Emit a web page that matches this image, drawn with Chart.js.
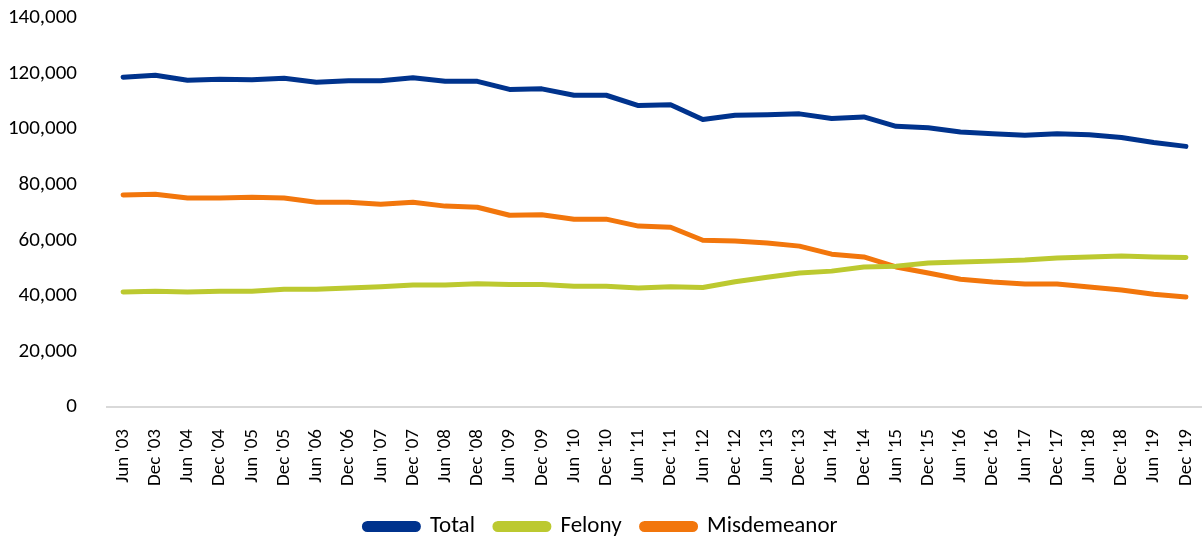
<!DOCTYPE html>
<html>
<head>
<meta charset="utf-8">
<script src="https://cdn.jsdelivr.net/npm/chart.js@4"></script>
<style>
  html, body { margin: 0; padding: 0; background: #fff; }
  #wrap { width: 1202px; height: 539px; }
</style>
</head>
<body>
<div id="wrap"><canvas id="chart"></canvas></div>
<script>
const periods = ["Jun '03","Dec '03","Jun '04","Dec '04","Jun '05","Dec '05","Jun '06","Dec '06",
  "Jun '07","Dec '07","Jun '08","Dec '08","Jun '09","Dec '09","Jun '10","Dec '10","Jun '11","Dec '11",
  "Jun '12","Dec '12","Jun '13","Dec '13","Jun '14","Dec '14","Jun '15","Dec '15","Jun '16","Dec '16",
  "Jun '17","Dec '17","Jun '18","Dec '18","Jun '19","Dec '19"];

const total = [118700,119400,117600,118000,117800,118300,116900,117400,117400,118500,117200,117200,
  114300,114500,112200,112200,108500,108800,103500,105000,105200,105500,103800,104400,
  101000,100500,99000,98300,97800,98300,98000,97000,95200,93800];

const felony = [41400,41700,41400,41700,41700,42400,42400,42800,43300,43900,43900,44400,
  44100,44100,43500,43500,42800,43300,43000,45100,46700,48200,48900,50400,
  50700,51800,52200,52500,52900,53600,54000,54300,54000,53800];

const misdemeanor = [76300,76600,75200,75200,75500,75200,73700,73700,73000,73700,72300,71900,
  69000,69200,67600,67600,65100,64700,60000,59700,59000,57900,55000,54000,
  50400,48200,46000,45000,44300,44300,43200,42100,40600,39600];

const yTicks = [0, 20000, 40000, 60000, 80000, 100000, 120000, 140000];

const fontFamily = "Carlito, Lato, 'Open Sans', sans-serif";

function series(label, data, color) {
  return {
    label: label,
    data: data,
    borderColor: color,
    backgroundColor: color,
    borderWidth: 5,
    pointRadius: 0,
    tension: 0,
    borderCapStyle: 'round',
    borderJoinStyle: 'round'
  };
}

// drop the extra padding Chart.js reserves around the axes
function noPad(scale) {
  scale.paddingTop = 0;
  scale.paddingBottom = 0;
  scale.paddingLeft = 0;
  scale.paddingRight = 0;
}

// nudge the legend row down a little
const legendShift = {
  id: 'legendShift',
  afterLayout(chart) {
    chart.legend.top += 9;
    chart.legend.bottom += 9;
  }
};

new Chart(document.getElementById('chart').getContext('2d'), {
  type: 'line',
  data: {
    labels: periods,
    datasets: [
      series('Total', total, '#00338d'),
      series('Felony', felony, '#bcc930'),
      series('Misdemeanor', misdemeanor, '#f2760c')
    ]
  },
  options: {
    responsive: true,
    maintainAspectRatio: false,
    animation: false,
    layout: { padding: { top: 18, right: 0, left: 0, bottom: 0 } },
    scales: {
      x: {
        offset: true,
        grid: { display: false },
        border: { display: true, color: '#d9d9d9', width: 2 },
        afterFit: s => { noPad(s); s.height = 79; },
        ticks: {
          color: '#000',
          font: { family: fontFamily, size: 19 },
          maxRotation: 90,
          minRotation: 90,
          autoSkip: false,
          padding: 14
        }
      },
      y: {
        min: 0,
        max: 140000,
        afterBuildTicks: axis => { axis.ticks = yTicks.map(v => ({ value: v })); },
        afterFit: s => { noPad(s); s.width = 107; },
        grid: { display: false },
        border: { display: false },
        ticks: {
          color: '#000',
          font: { family: fontFamily, size: 21 },
          padding: 22,
          callback: v => v.toLocaleString('en-US')
        }
      }
    },
    plugins: {
      legend: {
        position: 'bottom',
        labels: {
          color: '#000',
          font: { family: fontFamily, size: 23 },
          boxWidth: 54,
          boxHeight: 6,
          useBorderRadius: true,
          borderRadius: 3,
          padding: 20
        }
      },
      tooltip: { enabled: false }
    }
  },
  plugins: [legendShift]
});
</script>
</body>
</html>
